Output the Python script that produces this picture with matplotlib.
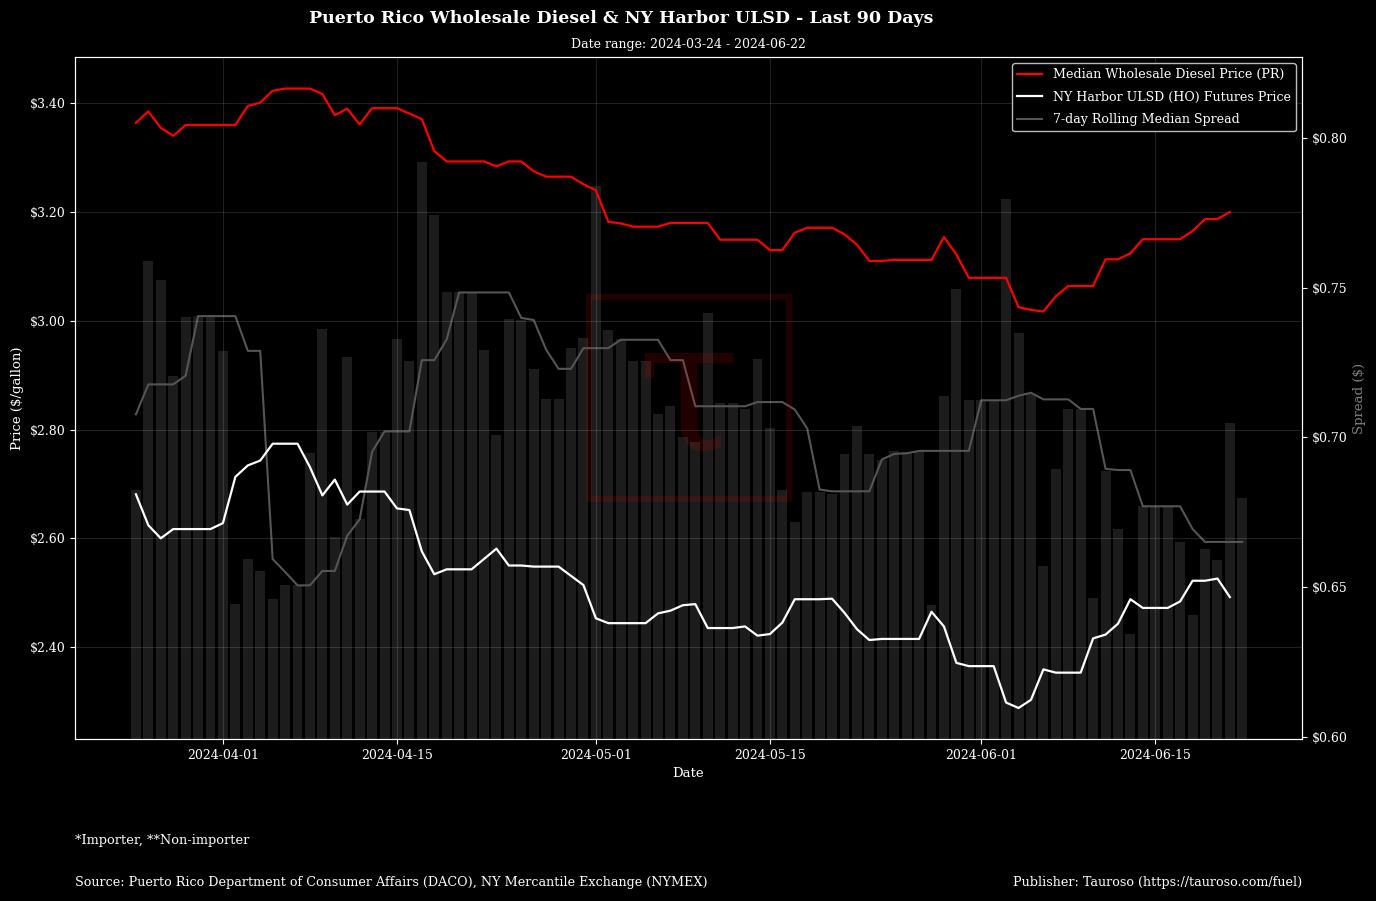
import numpy as np
import pandas as pd
import matplotlib
matplotlib.use('Agg')
import matplotlib.pyplot as plt
import matplotlib.dates as mdates
from matplotlib.patches import Rectangle
from matplotlib.lines import Line2D
from matplotlib.ticker import FuncFormatter

# daily data, last 90 days
dates = pd.date_range('2024-03-25', '2024-06-22', freq='D')

pr_price = [
    3.364, 3.385, 3.355, 3.340, 3.360, 3.360, 3.360, 3.360, 3.360, 3.395,
    3.401, 3.423, 3.427, 3.427, 3.427, 3.417, 3.378, 3.390, 3.361, 3.391,
    3.391, 3.391, 3.381, 3.371, 3.312, 3.293, 3.293, 3.293, 3.293, 3.284,
    3.293, 3.293, 3.275, 3.265, 3.265, 3.265, 3.251, 3.240, 3.182, 3.179,
    3.173, 3.173, 3.173, 3.180, 3.180, 3.180, 3.180, 3.149, 3.149, 3.149,
    3.149, 3.130, 3.130, 3.162, 3.171, 3.171, 3.171, 3.159, 3.140, 3.110,
    3.110, 3.112, 3.112, 3.112, 3.112, 3.154, 3.122, 3.079, 3.079, 3.079,
    3.079, 3.025, 3.020, 3.017, 3.045, 3.064, 3.064, 3.064, 3.113, 3.113,
    3.124, 3.150, 3.150, 3.150, 3.150, 3.165, 3.187, 3.187, 3.200,
]

ho_price = [
    2.681, 2.624, 2.600, 2.617, 2.617, 2.617, 2.617, 2.628, 2.713, 2.734,
    2.743, 2.774, 2.774, 2.774, 2.731, 2.679, 2.708, 2.662, 2.686, 2.686,
    2.686, 2.655, 2.652, 2.576, 2.534, 2.543, 2.543, 2.543, 2.562, 2.581,
    2.550, 2.550, 2.548, 2.548, 2.548, 2.531, 2.514, 2.453, 2.444, 2.444,
    2.444, 2.444, 2.462, 2.467, 2.477, 2.479, 2.435, 2.435, 2.435, 2.438,
    2.421, 2.424, 2.445, 2.488, 2.488, 2.488, 2.489, 2.463, 2.433, 2.413,
    2.415, 2.415, 2.415, 2.415, 2.465, 2.438, 2.371, 2.365, 2.365, 2.365,
    2.298, 2.288, 2.303, 2.359, 2.353, 2.353, 2.353, 2.416, 2.423, 2.443,
    2.488, 2.472, 2.472, 2.472, 2.484, 2.522, 2.522, 2.526, 2.492,
]

spread = [
    0.6824, 0.7590, 0.7524, 0.7205, 0.7402, 0.7405, 0.7402, 0.7287, 0.6444, 0.6594,
    0.6554, 0.6459, 0.6507, 0.6507, 0.6948, 0.7362, 0.6669, 0.7267, 0.6728, 0.7018,
    0.7018, 0.7327, 0.7256, 0.7920, 0.7743, 0.7484, 0.7484, 0.7484, 0.7293, 0.7008,
    0.7396, 0.7392, 0.7227, 0.7129, 0.7129, 0.7298, 0.7331, 0.7838, 0.7357, 0.7327,
    0.7256, 0.7256, 0.7079, 0.7104, 0.7002, 0.6985, 0.7414, 0.7114, 0.7116, 0.7095,
    0.7261, 0.7033, 0.6824, 0.6718, 0.6817, 0.6817, 0.6811, 0.6944, 0.7039, 0.6944,
    0.6926, 0.6954, 0.6950, 0.6954, 0.6440, 0.7137, 0.7494, 0.7124, 0.7124, 0.7124,
    0.7797, 0.7350, 0.7146, 0.6569, 0.6895, 0.7095, 0.7095, 0.6465, 0.6889, 0.6695,
    0.6344, 0.6770, 0.6770, 0.6770, 0.6651, 0.6406, 0.6628, 0.6592, 0.7048, 0.6797,
]

rolling_spread = [
    0.7077, 0.7177, 0.7177, 0.7177, 0.7206, 0.7405, 0.7405, 0.7405, 0.7405, 0.7289,
    0.7289, 0.6594, 0.6551, 0.6506, 0.6506, 0.6554, 0.6554, 0.6672, 0.6726, 0.6952,
    0.7020, 0.7020, 0.7020, 0.7258, 0.7258, 0.7327, 0.7484, 0.7484, 0.7484, 0.7484,
    0.7484, 0.7399, 0.7392, 0.7293, 0.7229, 0.7229, 0.7298, 0.7298, 0.7298, 0.7326,
    0.7326, 0.7326, 0.7326, 0.7258, 0.7258, 0.7104, 0.7104, 0.7104, 0.7104, 0.7104,
    0.7118, 0.7118, 0.7118, 0.7093, 0.7030, 0.6826, 0.6820, 0.6820, 0.6820, 0.6820,
    0.6926, 0.6945, 0.6947, 0.6955, 0.6955, 0.6955, 0.6955, 0.6955, 0.7124, 0.7124,
    0.7124, 0.7139, 0.7149, 0.7127, 0.7127, 0.7127, 0.7095, 0.7095, 0.6895, 0.6891,
    0.6891, 0.6770, 0.6770, 0.6770, 0.6770, 0.6694, 0.6651, 0.6651, 0.6651, 0.6651,
]

plt.rcParams['font.family'] = ['DejaVu Serif']

fig = plt.figure(figsize=(13.76, 9.01), dpi=100, facecolor='black')
ax1 = fig.add_axes([0.0545, 0.1798, 0.8917, 0.7569])
ax2 = ax1.twinx()
ax1.set_zorder(ax2.get_zorder() + 1)
ax1.patch.set_visible(False)
ax2.set_facecolor('black')

# spread bars + rolling median on the right axis
ax2.bar(dates, spread, width=0.8, color='#1c1c1c', zorder=1)
ax2.plot(dates, rolling_spread, color='#555555', lw=1.5, zorder=2)

line_dates = dates[:len(pr_price)]
ax1.plot(line_dates, pr_price, color='red', lw=1.6)
ax1.plot(line_dates, ho_price, color='white', lw=1.6)

ax1.set_ylim(2.231, 3.485)
ax2.set_ylim(0.5993, 0.827)
ax1.set_xlim(dates[0] - pd.Timedelta(days=4.9), dates[0] + pd.Timedelta(days=93.8))

ax1.xaxis.set_major_locator(mdates.DayLocator(bymonthday=[1, 15]))
ax1.xaxis.set_major_formatter(mdates.DateFormatter('%Y-%m-%d'))
ax1.yaxis.set_major_formatter(FuncFormatter(lambda v, p: '${:.2f}'.format(v)))
ax2.yaxis.set_major_formatter(FuncFormatter(lambda v, p: '${:.2f}'.format(v)))
ax1.set_yticks(np.arange(2.4, 3.41, 0.2))
ax2.set_yticks(np.arange(0.60, 0.801, 0.05))

ax1.grid(True, color='white', alpha=0.13, lw=0.8)

for ax in (ax1, ax2):
    ax.tick_params(colors='white', labelsize=9)
    for sp in ax.spines.values():
        sp.set_color('white')

ax1.set_xlabel('Date', color='white', fontsize=9.5)
ax1.set_ylabel('Price ($/gallon)', color='white', fontsize=9.5)
ax2.set_ylabel('Spread ($)', color='gray', fontsize=9.5)

# watermark logo
ax1.add_patch(Rectangle((0.419, 0.352), 0.163, 0.296, transform=ax1.transAxes,
                        fill=False, edgecolor='red', alpha=0.13, lw=4.5, zorder=0))
ax1.text(0.5, 0.5, '\u03c4', transform=ax1.transAxes, ha='center', va='center',
         fontsize=135, color='red', alpha=0.13, zorder=0)

handles = [Line2D([], [], color='red', lw=1.6),
           Line2D([], [], color='white', lw=1.6),
           Line2D([], [], color='#555555', lw=1.5)]
labels = ['Median Wholesale Diesel Price (PR)',
          'NY Harbor ULSD (HO) Futures Price',
          '7-day Rolling Median Spread']
leg = ax1.legend(handles, labels, loc='upper right', facecolor='black',
                 edgecolor='#bbbbbb', labelcolor='white', fontsize=9.1,
                 labelspacing=0.75, framealpha=1)

fig.text(0.4513, 0.980, 'Puerto Rico Wholesale Diesel & NY Harbor ULSD - Last 90 Days',
         ha='center', va='center', color='white', fontsize=12.5, fontweight='bold')
fig.text(0.5, 0.951, 'Date range: 2024-03-24 - 2024-06-22',
         ha='center', va='center', color='white', fontsize=9)

fig.text(0.0545, 0.0666, '*Importer, **Non-importer', ha='left', va='center',
         color='white', fontsize=9.3)
fig.text(0.0545, 0.021, 'Source: Puerto Rico Department of Consumer Affairs (DACO), NY Mercantile Exchange (NYMEX)',
         ha='left', va='center', color='white', fontsize=9.2)
fig.text(0.9462, 0.021, 'Publisher: Tauroso (https://tauroso.com/fuel)', ha='right', va='center',
         color='white', fontsize=9.2)

fig.savefig('out.png', dpi=100, facecolor='black')
